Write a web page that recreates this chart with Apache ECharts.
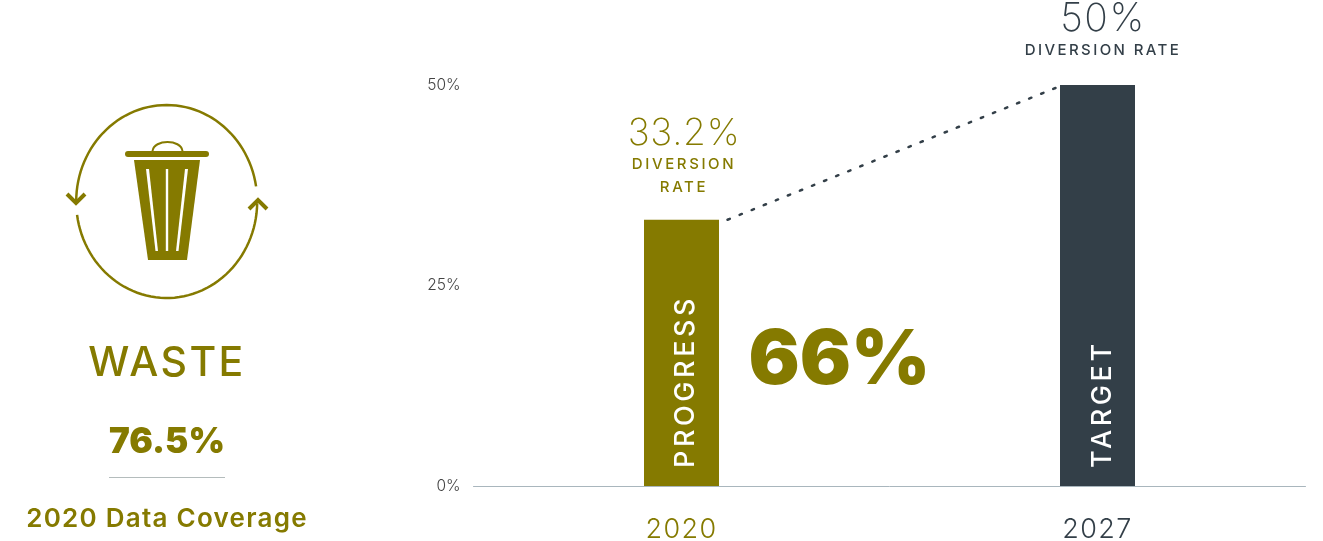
<!DOCTYPE html>
<html>
<head>
<meta charset="utf-8">
<style>html,body{margin:0;padding:0;background:#fff}#chart{width:1323px;height:541px}</style>
<script src="https://cdn.jsdelivr.net/npm/echarts@6/dist/echarts.min.js"></script>
</head>
<body>
<div id="chart"></div>
<script>
// Chart data
const years = ['2020', '2027'];
const diversionRates = [33.2, 50];
const barNames = ['PROGRESS', 'TARGET'];
const yTicks = [0, 25, 50];
const progressShare = '66%';
const coverageValue = '76.5%';
const coverageCaption = '2020 Data Coverage';
const sectorName = 'WASTE';

const OLIVE = '#857a00';
const SLATE = '#333f48';
const FONT = 'Inter, "Noto Sans", sans-serif';

// Tracking for the spaced-out caps; the text renderer has no option for it.
const tracking = {
  'WASTE': '2.4px', 'DIVERSION': '2.6px', 'RATE': '2.6px', 'DIVERSION RATE': '2.4px',
  'PROGRESS': '3.6px', 'TARGET': '3.6px', '2020 Data Coverage': '1.25px',
  '2020': '1.4px', '2027': '1.4px'
};
// The large light figures above the bars are tracked by type size
const figureTracking = { '37px': '0.7px', '39px': '1.6px' };
const baseFillText = CanvasRenderingContext2D.prototype.fillText;
CanvasRenderingContext2D.prototype.fillText = function (t, x, y, w) {
  const size = (this.font.match(/(\d+(?:\.\d+)?px)/) || [])[1];
  this.letterSpacing = tracking[t] || figureTracking[size] || '0px';
  return w === undefined ? baseFillText.call(this, t, x, y) : baseFillText.call(this, t, x, y, w);
};

function text(str, x, y, font, fill) {
  return { type: 'text', style: { text: str, x, y, font, fill, textAlign: 'center', textVerticalAlign: 'middle' } };
}
function stroke(points, lineWidth) {
  return { type: 'polyline', shape: { points }, style: { fill: 'none', stroke: OLIVE, lineWidth } };
}
function solid(points, fill) {
  return { type: 'polygon', shape: { points }, style: { fill } };
}
// Points along the emblem's slightly tall ring, angles in degrees from east, counter-clockwise
function ringArc(fromDeg, toDeg) {
  const pts = [];
  for (let d = fromDeg; d <= toDeg; d += 3) {
    const a = d * Math.PI / 180;
    pts.push([166.7 + 90.5 * Math.cos(a), 201.5 - 96.5 * Math.sin(a)]);
  }
  return pts;
}

// Recycling bin emblem and the coverage panel on the left
const sidePanel = [
  stroke(ringArc(9, 180), 2.5),
  stroke(ringArc(188, 360), 2.5),
  stroke([[67, 194], [76, 203], [85, 194]], 4),
  stroke([[249, 209], [258, 200], [267, 209]], 4),
  { type: 'bezierCurve', shape: { x1: 152.5, y1: 151, cpx1: 154, cpy1: 139, cpx2: 181, cpy2: 139, x2: 182.5, y2: 151 },
    style: { fill: 'none', stroke: OLIVE, lineWidth: 2 } },
  { type: 'rect', shape: { x: 125, y: 151, width: 84, height: 6, r: 3 }, style: { fill: OLIVE } },
  solid([[134, 160], [200, 160], [187, 260], [148, 260]], OLIVE),
  solid([[146, 169], [149, 169], [158, 251], [155.5, 251]], '#fff'),
  solid([[165.8, 169], [168.2, 169], [168.2, 251], [165.8, 251]], '#fff'),
  solid([[185, 169], [188, 169], [178.5, 251], [176, 251]], '#fff'),
  text(sectorName, 167, 364, '500 41px ' + FONT, OLIVE),
  text(coverageValue, 167, 442, '900 35px ' + FONT, OLIVE),
  { type: 'rect', shape: { x: 109, y: 477, width: 116, height: 1 }, style: { fill: '#b4bcbc' } },
  text(coverageCaption, 167, 519, '600 26px ' + FONT, OLIVE),
  text(progressShare, 839.5, 361, '900 76px ' + FONT, OLIVE)
];

// Dotted connector from the top of one bar to the top of the next
function renderConnector(params, api) {
  if (params.dataIndex !== 0) return null;
  const from = api.coord([0, diversionRates[0]]);
  const to = api.coord([1, diversionRates[1]]);
  return {
    type: 'line',
    shape: { x1: from[0] + 46, y1: from[1], x2: to[0] - 42, y2: to[1] + 3 },
    style: { stroke: SLATE, lineWidth: 2.5, lineDash: [2.5, 10.5], lineCap: 'round' }
  };
}

const chart = echarts.init(document.getElementById('chart'), null, { renderer: 'canvas' });
chart.setOption({
  animation: false,
  grid: { left: 473.5, right: 17.5, top: 85, bottom: 55, outerBoundsMode: 'none' },
  xAxis: {
    type: 'category',
    data: years.map((y, i) => ({ value: y, textStyle: { color: i === 0 ? OLIVE : SLATE } })),
    axisTick: { show: false },
    axisLine: { lineStyle: { color: '#a9b6bd', width: 1 } },
    axisLabel: { fontFamily: FONT, fontSize: 27, fontWeight: 300, margin: 30 }
  },
  yAxis: {
    type: 'value',
    min: yTicks[0],
    max: yTicks[2],
    interval: yTicks[1],
    splitLine: { show: false },
    axisLine: { show: false },
    axisTick: { show: false },
    axisLabel: { formatter: '{value}%', fontFamily: FONT, fontSize: 15.5, fontWeight: 300, color: '#444', margin: 13 }
  },
  series: [
    {
      type: 'bar',
      barWidth: 75,
      data: diversionRates.map((v, i) => ({
        value: v,
        name: barNames[i],
        itemStyle: { color: i === 0 ? OLIVE : SLATE },
        label: { offset: [0, i === 0 ? 4 : 5] }
      })),
      label: {
        show: true,
        position: 'insideBottom',
        rotate: 90,
        align: 'left',
        verticalAlign: 'middle',
        distance: 18,
        formatter: p => p.name,
        fontFamily: FONT,
        fontSize: 27,
        fontWeight: 500,
        color: '#fff'
      }
    },
    {
      type: 'bar',
      barWidth: 75,
      barGap: '-100%',
      silent: true,
      itemStyle: { color: 'transparent' },
      data: [
        {
          value: diversionRates[0],
          label: {
            formatter: p => `{v|${p.value}%}\n{d|DIVERSION}\n{d|RATE}`,
            distance: 20.5,
            offset: [2.5, 0],
            rich: {
              v: { fontFamily: FONT, fontSize: 37, fontWeight: 200, color: OLIVE, lineHeight: 39, align: 'center' },
              d: { fontFamily: FONT, fontSize: 15, fontWeight: 500, color: OLIVE, lineHeight: 23, align: 'center' }
            }
          }
        },
        {
          value: diversionRates[1],
          label: {
            formatter: p => `{v|${p.value}%}\n{d|DIVERSION RATE}`,
            distance: 25,
            offset: [5.5, 0],
            rich: {
              v: { fontFamily: FONT, fontSize: 39, fontWeight: 200, color: SLATE, lineHeight: 41, align: 'center' },
              d: { fontFamily: FONT, fontSize: 15, fontWeight: 500, color: SLATE, lineHeight: 20, align: 'center' }
            }
          }
        }
      ],
      label: { show: true, position: 'top' }
    },
    {
      type: 'custom',
      silent: true,
      data: [0],
      renderItem: renderConnector,
      encode: { x: 0, y: 0 },
      z: 3
    }
  ],
  graphic: { elements: sidePanel }
});
</script>
</body>
</html>
